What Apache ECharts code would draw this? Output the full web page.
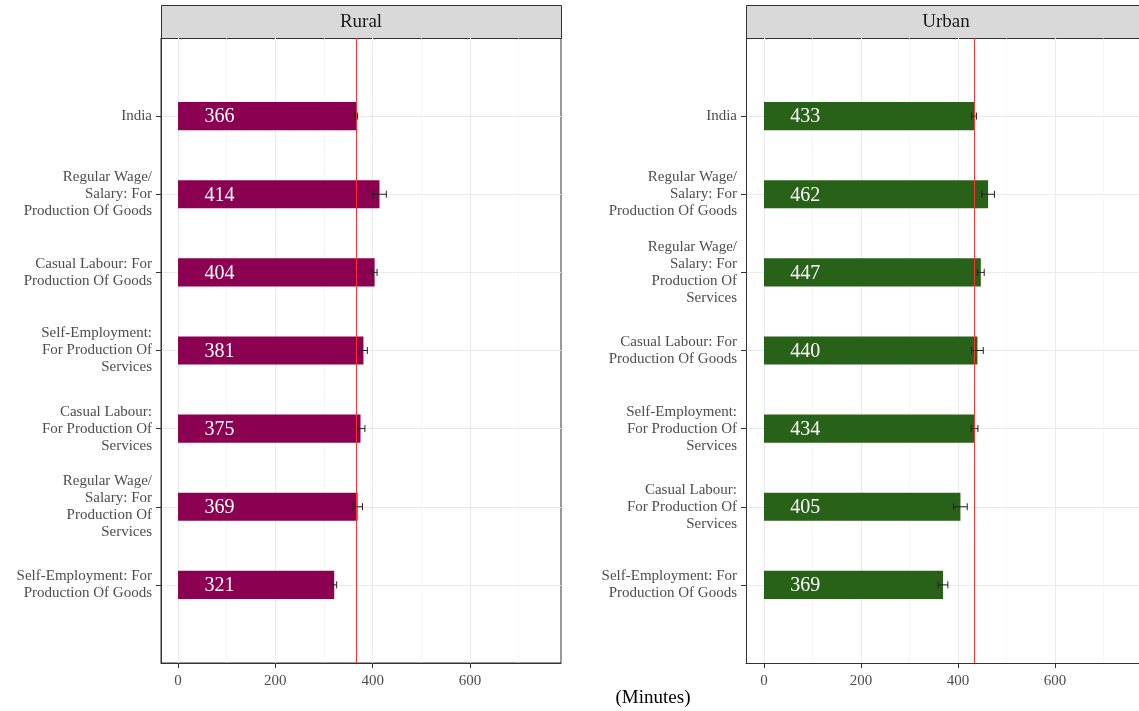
<!DOCTYPE html>
<html>
<head>
<meta charset="utf-8">
<script src="https://cdn.jsdelivr.net/npm/echarts@6/dist/echarts.min.js"></script>
<style>
  html, body { margin: 0; padding: 0; background: #fff; }
  #chart { width: 1139px; height: 711px; }
</style>
</head>
<body>
<div id="chart"></div>
<script>
// Average time spent (minutes) by employment type, with standard-error bars
const ruralCategories = [
  'India',
  'Regular Wage/\nSalary: For\nProduction Of Goods',
  'Casual Labour: For\nProduction Of Goods',
  'Self-Employment:\nFor Production Of\nServices',
  'Casual Labour:\nFor Production Of\nServices',
  'Regular Wage/\nSalary: For\nProduction Of\nServices',
  'Self-Employment: For\nProduction Of Goods'
];
const ruralValues = [366, 414, 404, 381, 375, 369, 321];
const ruralErrors = [3, 14, 5, 8, 9, 10, 5];

const urbanCategories = [
  'India',
  'Regular Wage/\nSalary: For\nProduction Of Goods',
  'Regular Wage/\nSalary: For\nProduction Of\nServices',
  'Casual Labour: For\nProduction Of Goods',
  'Self-Employment:\nFor Production Of\nServices',
  'Casual Labour:\nFor Production Of\nServices',
  'Self-Employment: For\nProduction Of Goods'
];
const urbanValues = [433, 462, 447, 440, 434, 405, 369];
const urbanErrors = [5, 13, 7, 12, 7, 14, 10];

const panelTitles = ['Rural', 'Urban'];
const xMajorTicks = [0, 200, 400, 600];
const xMinorTicks = [100, 300, 500, 700];
const labelPosition = 85;

const SERIF = "'Liberation Serif', 'Times New Roman', serif";
const colors = ['#8b0050', '#286118'];
// the Urban panel runs past the right edge of the page
const panels = [
  { left: 161, width: 400, min: -35, max: 787, border: true, cats: ruralCategories, vals: ruralValues, errs: ruralErrors },
  { left: 746, width: 393, min: -37, max: 773, border: false, cats: urbanCategories, vals: urbanValues, errs: urbanErrors }
];
const PANEL_TOP = 38, PANEL_H = 625, STRIP_TOP = 5, STRIP_H = 33;

function makeRender(color) {
  return function (params, api) {
    const v = api.value(0), i = api.value(1), e = api.value(2);
    const p0 = api.coord([0, i]);
    const p1 = api.coord([v, i]);
    const h = api.size([0, 0.36])[1];
    const lo = api.coord([v - e, i]);
    const hi = api.coord([v + e, i]);
    const cap = api.size([0, 0.09])[1];
    const lab = api.coord([labelPosition, i]);
    const es = { stroke: '#222', lineWidth: 1 };
    return {
      type: 'group',
      children: [
        { type: 'rect', shape: { x: p0[0], y: p0[1] - h / 2, width: p1[0] - p0[0], height: h }, style: { fill: color } },
        { type: 'text', x: lab[0], y: lab[1] + 1, style: { text: String(v), fill: '#fff', fontSize: 20, fontFamily: SERIF, align: 'center', verticalAlign: 'middle' } },
        { type: 'line', shape: { x1: lo[0], y1: lo[1], x2: hi[0], y2: hi[1] }, style: es },
        { type: 'line', shape: { x1: lo[0], y1: lo[1] - cap / 2, x2: lo[0], y2: lo[1] + cap / 2 }, style: es },
        { type: 'line', shape: { x1: hi[0], y1: hi[1] - cap / 2, x2: hi[0], y2: hi[1] + cap / 2 }, style: es }
      ]
    };
  };
}

const grids = [], xAxes = [], yAxes = [], series = [], graphics = [];
panels.forEach((p, k) => {
  grids.push({ left: p.left, top: PANEL_TOP, width: p.width, height: PANEL_H, show: p.border,
    borderColor: '#333', borderWidth: 1, backgroundColor: 'transparent', containLabel: false });
  // major x axis (also the panel's bottom edge)
  xAxes.push({
    type: 'value', gridIndex: k, min: p.min, max: p.max, position: 'bottom',
    axisLine: { show: true, onZero: false, lineStyle: { color: '#333', width: 1 } },
    axisTick: { show: true, length: 5, customValues: xMajorTicks, lineStyle: { color: '#333', width: 1 } },
    axisLabel: { customValues: xMajorTicks, color: '#4d4d4d', fontSize: 15, fontFamily: SERIF, margin: 11 },
    splitLine: { show: true, lineStyle: { color: '#ebebeb', width: 1.1 } }
  });
  // minor gridlines
  xAxes.push({
    type: 'value', gridIndex: k, min: p.min, max: p.max, position: 'bottom',
    axisLine: { show: false, onZero: false },
    axisTick: { show: false, customValues: xMinorTicks },
    axisLabel: { show: false, customValues: xMinorTicks },
    splitLine: { show: true, lineStyle: { color: '#f2f2f2', width: 0.6 } }
  });
  yAxes.push({
    type: 'value', gridIndex: k, inverse: true, min: -1, max: 7, position: 'left',
    axisLine: { show: true, onZero: false, lineStyle: { color: '#333', width: 1 } },
    axisTick: { show: true, length: 5, customValues: [0, 1, 2, 3, 4, 5, 6], lineStyle: { color: '#333' } },
    axisLabel: {
      customValues: [0, 1, 2, 3, 4, 5, 6],
      formatter: (v) => p.cats[Math.round(v)] || '',
      color: '#4d4d4d', fontSize: 15, fontFamily: SERIF, lineHeight: 17, align: 'right', margin: 9
    },
    splitLine: { show: true, lineStyle: { color: '#ebebeb', width: 1.1 } }
  });
  series.push({
    type: 'custom', xAxisIndex: k * 2, yAxisIndex: k,
    data: p.vals.map((v, i) => [v, i, p.errs[i]]),
    renderItem: makeRender(colors[k]),
    z: 3,
    markLine: {
      silent: true, symbol: 'none', z: 10,
      label: { show: false },
      lineStyle: { color: '#ff3030', width: 1, type: 'solid' },
      data: [{ xAxis: p.vals[0] }]
    }
  });
  graphics.push({
    type: 'rect', left: p.left, top: STRIP_TOP,
    shape: { width: p.border ? p.width : p.width + 10, height: STRIP_H },
    style: { fill: '#d9d9d9', stroke: '#333', lineWidth: 1 }
  });
  graphics.push({
    type: 'text', x: p.left + 200, y: STRIP_TOP + STRIP_H / 2 + 1,
    style: { text: panelTitles[k], fill: '#1a1a1a', fontSize: 19, fontFamily: SERIF, align: 'center', verticalAlign: 'middle' }
  });
});

graphics.push({
  type: 'text', x: 653, y: 698,
  style: { text: '(Minutes)', fill: '#000', fontSize: 19, fontFamily: SERIF, align: 'center', verticalAlign: 'middle' }
});

const chart = echarts.init(document.getElementById('chart'), null, { renderer: 'canvas' });
chart.setOption({
  animation: false,
  backgroundColor: '#fff',
  grid: grids,
  xAxis: xAxes,
  yAxis: yAxes,
  series: series,
  graphic: graphics
});
</script>
</body>
</html>
